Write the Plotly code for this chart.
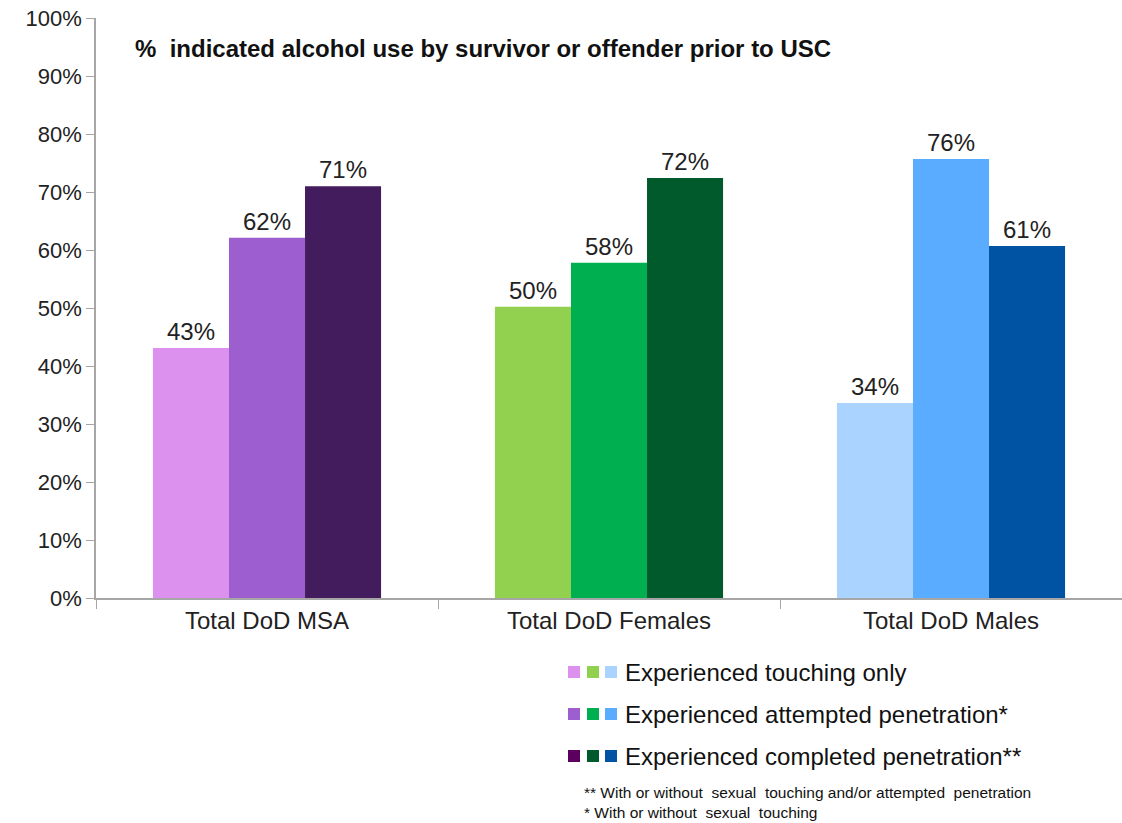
import plotly.graph_objects as go

categories = ["Total DoD MSA", "Total DoD Females", "Total DoD Males"]
series_names = ["Experienced touching only", "Experienced attempted penetration*", "Experienced completed penetration**"]
touching = [43.1, 50.2, 33.6]
attempted = [62.1, 57.8, 75.7]
completed = [71.0, 72.4, 60.7]
y_ticks = [0, 10, 20, 30, 40, 50, 60, 70, 80, 90, 100]
y_tick_labels = [f"{v}%" for v in y_ticks]

colors = [
    ["#DC91EF", "#92D050", "#AAD4FF"],
    ["#9D5FCF", "#00B050", "#59ACFF"],
    ["#431C5D", "#005A2B", "#0052A3"],
]
legend_colors = [
    ["#DC91EF", "#92D050", "#AAD4FF"],
    ["#9D5FCF", "#00B050", "#59ACFF"],
    ["#5C0060", "#005A2B", "#0052A3"],
]
title_text = "%  indicated alcohol use by survivor or offender prior to USC"
footnotes = ["** With or without  sexual  touching and/or attempted  penetration",
             "* With or without  sexual  touching"]

W, H = 1122, 823
ML, MR, MT, MB = 96, 0, 18, 823 - 598
PW, PH = W - ML - MR, H - MT - MB


def px(x):
    return (x - ML) / PW


def py(y):
    return (H - MB - y) / PH


FONT = "Liberation Sans, Arial"

fig = go.Figure()
for vals, cols, name in zip([touching, attempted, completed], colors, series_names):
    fig.add_trace(go.Bar(
        x=categories, y=vals, name=name,
        marker=dict(color=cols, line=dict(width=0)),
        text=vals, texttemplate="%{y:.0f}%", textposition="outside",
        textfont=dict(size=24, color="#222222", family=FONT),
        cliponaxis=False, showlegend=False,
    ))

fig.update_layout(
    width=W, height=H,
    margin=dict(l=ML, r=MR, t=MT, b=MB),
    paper_bgcolor="white", plot_bgcolor="white",
    barmode="group", bargap=0.333, bargroupgap=0,
    font=dict(family=FONT, color="#222222"),
    xaxis=dict(
        showline=True, linecolor="#A6A6A6", linewidth=1.5,
        ticks="outside", tickson="boundaries", ticklen=9, tickcolor="#A6A6A6",
        tickfont=dict(size=24, color="#222222"), showgrid=False, automargin=False,
    ),
    yaxis=dict(
        range=[0, 100], tickvals=y_ticks, ticktext=y_tick_labels,
        showline=True, linecolor="#A6A6A6", linewidth=1.5,
        ticks="outside", ticklen=8, tickcolor="#A6A6A6",
        tickfont=dict(size=22, color="#222222"), showgrid=False, zeroline=False,
        automargin=False, ticklabeloverflow="allow",
    ),
)

fig.add_annotation(
    x=px(133), y=py(48), xref="paper", yref="paper",
    text="<b>" + title_text + "</b>", showarrow=False,
    xanchor="left", yanchor="middle",
    font=dict(size=24, color="#111111"),
)

row_y = [672, 714, 756]
sq_x = [568, 587, 605]
sq = 12
for r, (name, cols) in enumerate(zip(series_names, legend_colors)):
    for c, col in enumerate(cols):
        fig.add_shape(
            type="rect", xref="paper", yref="paper",
            x0=px(sq_x[c]), x1=px(sq_x[c] + sq),
            y0=py(row_y[r] + sq / 2), y1=py(row_y[r] - sq / 2),
            fillcolor=col, line=dict(width=0),
        )
    fig.add_annotation(
        x=px(623), y=py(row_y[r]), xref="paper", yref="paper",
        text=name, showarrow=False, xanchor="left", yanchor="middle",
        font=dict(size=24, color="#111111"),
    )

for t, yy in zip(footnotes, [792, 812]):
    fig.add_annotation(
        x=px(582), y=py(yy), xref="paper", yref="paper",
        text=t, showarrow=False, xanchor="left", yanchor="middle",
        font=dict(size=15.5, color="#111111"),
    )

fig.write_html("out.html", config={"displayModeBar": False},
               post_script="document.body.style.margin='0';")
